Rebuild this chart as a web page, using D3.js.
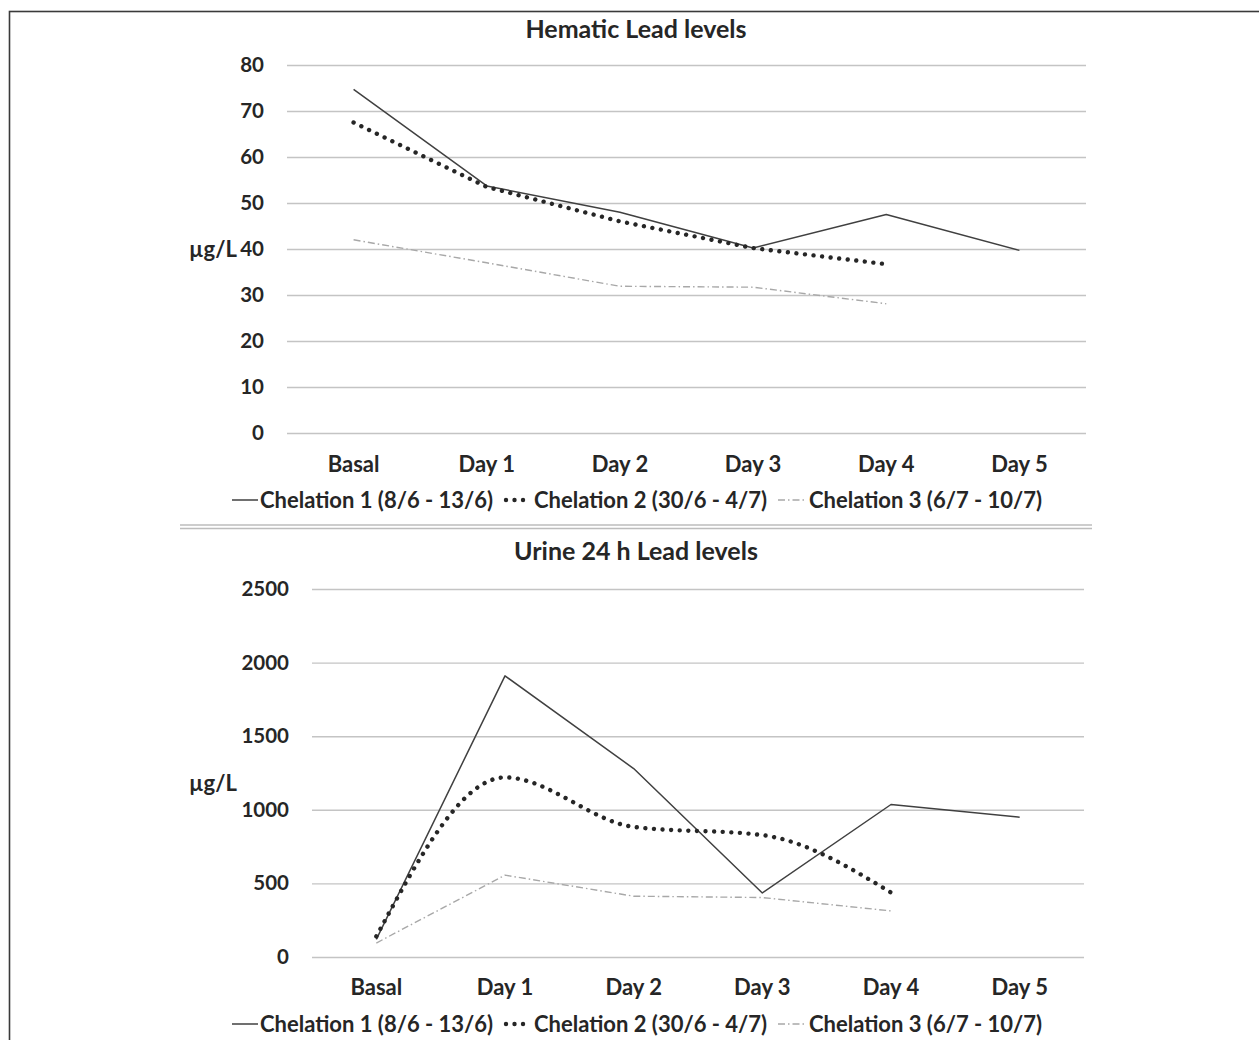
<!DOCTYPE html>
<html>
<head>
<meta charset="utf-8">
<script src="https://cdn.jsdelivr.net/npm/d3@7/dist/d3.min.js"></script>
<style>
  html, body { margin: 0; padding: 0; background: #ffffff; }
  svg { display: block; }
  text { font-family: Lato, "Open Sans", sans-serif; font-weight: 700; fill: #262626; }
</style>
</head>
<body>
<svg id="fig" width="1259" height="1040"></svg>
<script>
// Sampling days shared by both panels
const days = ["Basal", "Day 1", "Day 2", "Day 3", "Day 4", "Day 5"];

// Series labels (one per chelation cycle)
const seriesNames = [
  "Chelation 1 (8/6 - 13/6)",
  "Chelation 2 (30/6 - 4/7)",
  "Chelation 3 (6/7 - 10/7)"
];

// Blood lead, µg/L
const bloodC1 = [74.7, 53.7, 48.0, 40.2, 47.5, 39.7];
const bloodC2 = [67.5, 53.5, 46.0, 40.2, 36.7];
const bloodC3 = [42.0, 37.0, 31.9, 31.7, 28.1];
const bloodTicks = [0, 10, 20, 30, 40, 50, 60, 70, 80];

// 24 h urinary lead, µg/L
const urineC1 = [120, 1910, 1280, 435, 1036, 950];
const urineC2 = [140, 1220, 884, 828, 438];
const urineC3 = [95, 556, 413, 404, 313];
const urineTicks = [0, 500, 1000, 1500, 2000, 2500];

const svg = d3.select("#fig");

// Outer frame (open on the right and bottom edges of the page)
svg.append("rect")
  .attr("x", 9.5).attr("y", 11.5)
  .attr("width", 1400).attr("height", 1200)
  .attr("fill", "none").attr("stroke", "#3a3a3a").attr("stroke-width", 1.6);

// Double rule between the two panels
[525, 528.5].forEach(y => {
  svg.append("line")
    .attr("x1", 180).attr("x2", 1092).attr("y1", y).attr("y2", y)
    .attr("stroke", "#bdbdbd").attr("stroke-width", 1.6);
});

// Line styles for the three cycles
const styles = [
  { stroke: "#404040", width: 1.5, dash: null, cap: "butt" },
  { stroke: "#262626", width: 4.4, dash: "0.01 8.6", cap: "round" },
  { stroke: "#a8a8a8", width: 1.4, dash: "7 3 1.5 3", cap: "butt" }
];

const numFont = "20.5px";
const labelFont = "22px";

function drawPanel(cfg) {
  const g = svg.append("g");
  const x = d3.scaleBand().domain(days).range([cfg.left, cfg.right]);
  const y = d3.scaleLinear().domain([0, d3.max(cfg.ticks)]).range([cfg.bottom, cfg.top]);

  // Title
  g.append("text")
    .attr("x", cfg.center).attr("y", cfg.titleY)
    .attr("text-anchor", "middle")
    .style("font-size", "25px")
    .text(cfg.title);

  // Y axis with gridlines
  const yAxis = g.append("g")
    .attr("transform", `translate(${cfg.left},0)`)
    .call(d3.axisLeft(y).tickValues(cfg.ticks).tickSize(-(cfg.right - cfg.left)).tickPadding(23).tickFormat(d3.format("d")));
  yAxis.select(".domain").remove();
  yAxis.selectAll(".tick line").attr("stroke", "#c4c4c4").attr("stroke-width", 1.4);
  yAxis.selectAll(".tick text")
    .attr("fill", "#262626").style("font-size", numFont)
    .style("font-family", "Lato, sans-serif").style("font-weight", 700);

  // Unit label
  g.append("text")
    .attr("x", 189).attr("y", cfg.unitY)
    .style("font-size", labelFont)
    .text("µg/L");

  // X axis labels
  const xAxis = g.append("g")
    .attr("transform", `translate(0,${cfg.bottom})`)
    .call(d3.axisBottom(x).tickSize(0).tickPadding(cfg.xPad));
  xAxis.select(".domain").remove();
  xAxis.selectAll(".tick text")
    .attr("fill", "#262626").style("font-size", labelFont)
    .style("font-family", "Lato, sans-serif").style("font-weight", 700);

  // Series lines
  cfg.series.forEach((vals, i) => {
    const st = styles[i];
    const line = d3.line()
      .x((d, j) => x(days[j]) + x.bandwidth() / 2)
      .y(d => y(d))
      .curve(cfg.curves[i]);
    const p = g.append("path")
      .datum(vals)
      .attr("d", line)
      .attr("fill", "none")
      .attr("stroke", st.stroke)
      .attr("stroke-width", st.width)
      .attr("stroke-linecap", st.cap)
      .attr("stroke-linejoin", "round");
    if (st.dash) p.attr("stroke-dasharray", st.dash);
  });

  // Legend
  const leg = g.append("g").attr("transform", `translate(0,${cfg.legendY})`);
  const items = [
    { x: 232, tx: 260 },
    { x: 503, tx: 534 },
    { x: 778, tx: 809 }
  ];
  seriesNames.forEach((name, i) => {
    const st = styles[i];
    const l = leg.append("line")
      .attr("x1", items[i].x).attr("x2", items[i].x + 26)
      .attr("y1", 0).attr("y2", 0)
      .attr("stroke", st.stroke).attr("stroke-width", st.width)
      .attr("stroke-linecap", st.cap);
    if (st.dash) l.attr("stroke-dasharray", i === 1 ? "0.01 8.5" : "7 3 1.5 3");
    if (i === 1) l.attr("x1", items[i].x + 3);
    leg.append("text")
      .attr("x", items[i].tx).attr("y", 8)
      .style("font-size", labelFont)
      .text(name);
  });
}

// Upper panel: blood lead
drawPanel({
  title: "Hematic Lead levels", titleY: 38, center: 636,
  left: 287, right: 1086, top: 65, bottom: 433,
  ticks: bloodTicks, unitY: 257, xPad: 23,
  series: [bloodC1, bloodC2, bloodC3],
  curves: [d3.curveLinear, d3.curveLinear, d3.curveLinear],
  legendY: 500
});

// Lower panel: 24 h urine lead
drawPanel({
  title: "Urine 24 h Lead levels", titleY: 560, center: 636,
  left: 312, right: 1084, top: 589, bottom: 957,
  ticks: urineTicks, unitY: 791, xPad: 22,
  series: [urineC1, urineC2, urineC3],
  curves: [d3.curveLinear, d3.curveMonotoneX, d3.curveLinear],
  legendY: 1024
});
</script>
</body>
</html>
